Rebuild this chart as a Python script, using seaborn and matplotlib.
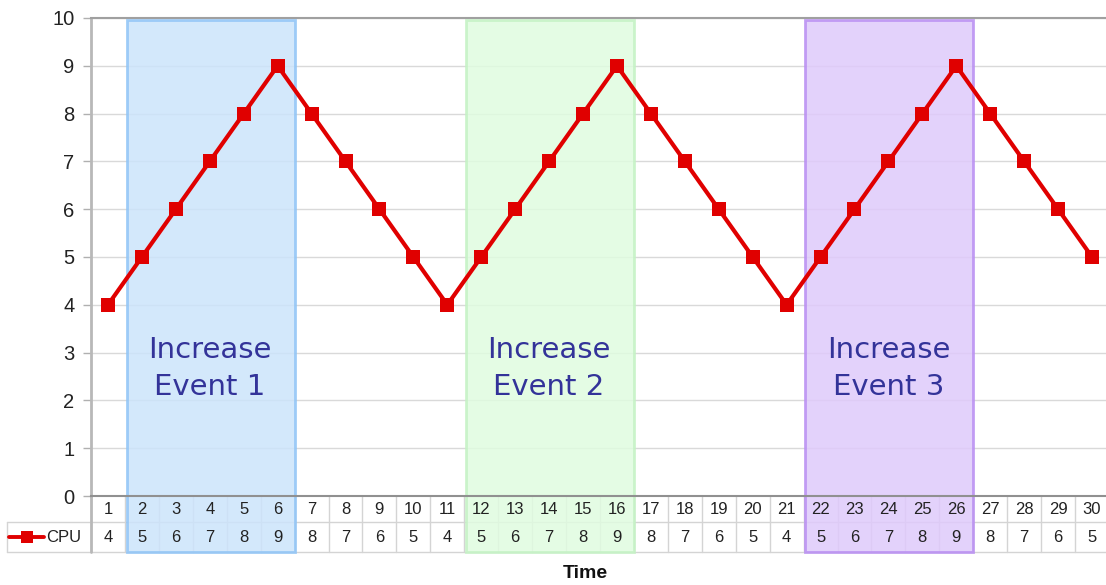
import matplotlib
matplotlib.use("Agg")
import matplotlib.pyplot as plt
import matplotlib.transforms as mtransforms
from matplotlib.patches import Rectangle
from matplotlib.lines import Line2D
import seaborn as sns
import pandas as pd

# Data
time_steps = list(range(1, 31))
cpu = [4, 5, 6, 7, 8, 9, 8, 7, 6, 5,
       4, 5, 6, 7, 8, 9, 8, 7, 6, 5,
       4, 5, 6, 7, 8, 9, 8, 7, 6, 5]
events = ["Increase\nEvent 1", "Increase\nEvent 2", "Increase\nEvent 3"]
event_ranges = [(2, 6), (12, 16), (22, 26)]
event_fills = ["#cce4fb", "#e0fce0", "#dfcafb"]
event_edges = ["#90c4f6", "#c4f2c4", "#b98ef2"]
y_ticks = list(range(0, 11))

sns.set_theme(style="white")
plt.rcParams["font.family"] = ["Liberation Sans", "DejaVu Sans"]

df = pd.DataFrame({"Time": time_steps, "CPU": cpu})

W, H = 1106, 585
fig = plt.figure(figsize=(W / 100, H / 100), dpi=100)
left, right, top, bottom = 91, 1109, 18, 496
ax = fig.add_axes([left / W, 1 - bottom / H, (right - left) / W, (bottom - top) / H])

line_red = "#e00000"
sns.lineplot(data=df, x="Time", y="CPU", ax=ax, color=line_red, linewidth=3.0,
             marker="s", markersize=9.5, markeredgewidth=0, zorder=5)

ax.set_xlim(0.5, 30.5)
ax.set_ylim(0, 10)
ax.set_yticks(y_ticks)
ax.set_yticklabels([str(v) for v in y_ticks], fontsize=14.5, color="#222222")
ax.set_xticks([])
ax.set_xlabel("")
ax.set_ylabel("")
ax.grid(axis="y", color="#d9d9d9", linewidth=1.0)
ax.set_axisbelow(True)
ax.tick_params(axis="y", length=6, width=1, color="#b0b0b0", left=True, pad=6)

ax.spines["right"].set_visible(False)
ax.spines["top"].set_color("#a0a0a0")
ax.spines["top"].set_linewidth(1.5)
ax.spines["bottom"].set_color("#909090")
ax.spines["bottom"].set_linewidth(1.5)
ax.spines["left"].set_color("#b8b8b8")
ax.spines["left"].set_linewidth(2.0)

# Data table below the plot (x in data units, y in axes units)
trans = mtransforms.blended_transform_factory(ax.transData, ax.transAxes)
px = 1.0 / (bottom - top)
row1_bot = -(522 - bottom) * px
row2_bot = -(552 - bottom) * px
label_left = (7 - left) / (right - left)

grid_col = "#d4d4d4"
# horizontal borders
ax.plot([label_left, 1.0], [row1_bot, row1_bot], transform=ax.transAxes, color=grid_col,
        lw=1, clip_on=False, zorder=1)
ax.plot([label_left, 1.0], [row2_bot, row2_bot], transform=ax.transAxes, color=grid_col,
        lw=1, clip_on=False, zorder=1)
ax.plot([label_left, label_left], [row1_bot, row2_bot], transform=ax.transAxes,
        color=grid_col, lw=1, clip_on=False, zorder=1)
ax.plot([0, 0], [0, row2_bot], transform=ax.transAxes, color="#b8b8b8", lw=2.0,
        clip_on=False, zorder=1)
for t in time_steps[:-1]:
    ax.plot([t + 0.5, t + 0.5], [0, row2_bot], transform=trans, color=grid_col,
            lw=1, clip_on=False, zorder=1)

for t, v in zip(time_steps, cpu):
    ax.text(t, row1_bot / 2, str(t), transform=trans, ha="center", va="center",
            fontsize=12, color="#222222", clip_on=False, zorder=6)
    ax.text(t, (row1_bot + row2_bot) / 2, str(v), transform=trans, ha="center",
            va="center", fontsize=12, color="#222222", clip_on=False, zorder=6)

# Legend key in the table's label cell
key_y = (row1_bot + row2_bot) / 2
x0 = (9 - left) / (right - left)
x1 = (44 - left) / (right - left)
ax.add_line(Line2D([x0, x1], [key_y, key_y], transform=ax.transAxes, color=line_red,
                   lw=2.8, clip_on=False, zorder=6))
ax.add_line(Line2D([(x0 + x1) / 2], [key_y], transform=ax.transAxes, color=line_red,
                   marker="s", markersize=8.5, markeredgewidth=0, clip_on=False, zorder=6))
ax.text((46 - left) / (right - left), key_y, "CPU", transform=ax.transAxes,
        ha="left", va="center", fontsize=12, color="#222222", clip_on=False, zorder=6)

# Highlighted event bands
band_top = (bottom - 20) * px
for (a, b), label, fc, ec in zip(event_ranges, events, event_fills, event_edges):
    ax.add_patch(Rectangle((a - 0.45, row2_bot), (b - a) + 0.95, band_top - row2_bot,
                           transform=trans, facecolor=fc, edgecolor=ec, lw=2.0,
                           alpha=0.85, clip_on=False, zorder=2))
    ax.text((a + b) / 2, 2.66, label, ha="center", va="center", fontsize=21,
            color="#333399", family=["DejaVu Sans"], linespacing=1.4, zorder=4)

fig.text(585 / W, 1 - 573 / H, "Time", ha="center", va="center",
         fontsize=14, fontweight="bold", color="#111111")

fig.savefig("out.png", dpi=100)
